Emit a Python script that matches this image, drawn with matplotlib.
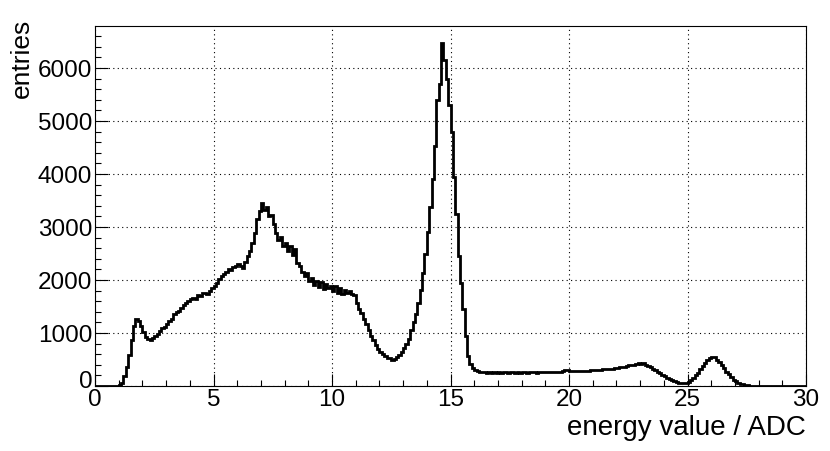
import numpy as np
import matplotlib
matplotlib.use('Agg')
import matplotlib.pyplot as plt
import matplotlib.transforms as mtransforms
from matplotlib.ticker import MultipleLocator

plt.rcParams['font.family'] = ['Liberation Sans', 'DejaVu Sans']

# histogram: 300 bins from 0 to 30 ADC
x_min, x_max, n_bins = 0.0, 30.0, 300
counts = [
    0, 0, 0, 0, 0, 0, 0, 0, 0, 0,                                  # 0
    10, 60, 180, 360, 580, 860, 1140, 1270, 1230, 1130,            # 1
    1010, 930, 880, 860, 900, 950, 980, 1030, 1090, 1120,          # 2
    1170, 1230, 1260, 1350, 1390, 1420, 1480, 1520, 1560, 1610,    # 3
    1640, 1670, 1650, 1720, 1690, 1750, 1760, 1730, 1800, 1840,    # 4
    1880, 1950, 2010, 2080, 2110, 2150, 2200, 2190, 2250, 2270,    # 5
    2300, 2260, 2230, 2340, 2460, 2550, 2700, 2880, 3150, 3300,    # 6
    3460, 3320, 3380, 3200, 3230, 3050, 2880, 2760, 2820, 2640,    # 7
    2700, 2540, 2640, 2480, 2580, 2320, 2260, 2150, 2080, 2130,    # 8
    1980, 2040, 1910, 1990, 1870, 1960, 1830, 1920, 1850, 1890,    # 9
    1790, 1880, 1760, 1850, 1740, 1820, 1760, 1800, 1730, 1720,    # 10
    1560, 1450, 1380, 1260, 1170, 1060, 940, 860, 770, 700,        # 11
    640, 600, 560, 530, 520, 500, 510, 540, 580, 640,              # 12
    720, 790, 880, 1050, 1200, 1360, 1560, 1820, 2140, 2500,       # 13
    2900, 3380, 3900, 4530, 5400, 5700, 6470, 6150, 5800, 5300,    # 14
    4800, 3950, 3250, 2450, 1950, 1450, 950, 560, 420, 340,        # 15
    300, 280, 265, 255, 262, 250, 258, 248, 255, 252,              # 16
    260, 250, 258, 262, 248, 255, 265, 252, 258, 250,              # 17
    262, 255, 248, 260, 270, 258, 252, 265, 260, 255,              # 18
    262, 270, 258, 265, 255, 262, 272, 280, 295, 300,              # 19
    290, 280, 285, 275, 282, 288, 280, 292, 290, 298,              # 20
    300, 305, 298, 310, 315, 312, 320, 318, 330, 335,              # 21
    345, 350, 358, 365, 375, 395, 400, 405, 420, 425,              # 22
    420, 430, 405, 380, 355, 330, 300, 270, 245, 215,              # 23
    185, 160, 130, 105, 85, 70, 58, 55, 58, 65,                    # 24
    80, 110, 150, 200, 250, 320, 380, 440, 490, 520,               # 25
    550, 540, 500, 450, 400, 340, 270, 220, 170, 120,              # 26
    85, 65, 45, 30, 20, 12, 7, 4, 2, 1,                            # 27
    1, 0, 1, 0, 0, 0, 0, 0, 0, 0,                                  # 28
    0, 0, 0, 0, 0, 0, 0, 0, 0, 0,                                  # 29
]
x_label = 'energy value / ADC'
y_label = 'entries'

edges = np.linspace(x_min, x_max, n_bins + 1)

fig = plt.figure(figsize=(8.3, 4.51), dpi=100)
ax = fig.add_axes([95 / 830, 65 / 451, 711 / 830, 360 / 451])

ax.stairs(counts, edges, color='black', linewidth=2.0, baseline=None)

ax.set_xlim(x_min, x_max)
ax.set_ylim(0, 1.05 * max(counts))

ax.xaxis.set_major_locator(MultipleLocator(5))
ax.xaxis.set_minor_locator(MultipleLocator(1))
ax.yaxis.set_major_locator(MultipleLocator(1000))
ax.yaxis.set_minor_locator(MultipleLocator(200))

ax.tick_params(which='both', direction='in', top=False, right=False,
               labelsize=17.5, width=0.8, colors='black')
ax.tick_params(which='major', length=9, pad=2)
ax.tick_params(which='minor', length=4.5)

ax.grid(True, which='major', color='black', linestyle=(0, (1, 3)), linewidth=0.8)
ax.set_axisbelow(True)
for sp in ax.spines.values():
    sp.set_linewidth(0.8)

ax.set_xlabel(x_label, fontsize=20, loc='right', labelpad=3)
fig.text(22 / 830, 1 - 19 / 451, y_label, fontsize=19, rotation=90,
         ha='center', va='top')

# lift the "0" of the y axis a little, as in the ROOT picture
fig.canvas.draw()
for lab in ax.get_yticklabels():
    if lab.get_text() == '0':
        lab.set_transform(lab.get_transform()
                          + mtransforms.ScaledTranslation(0, 0.06, fig.dpi_scale_trans))

fig.savefig('out.png', dpi=100)
